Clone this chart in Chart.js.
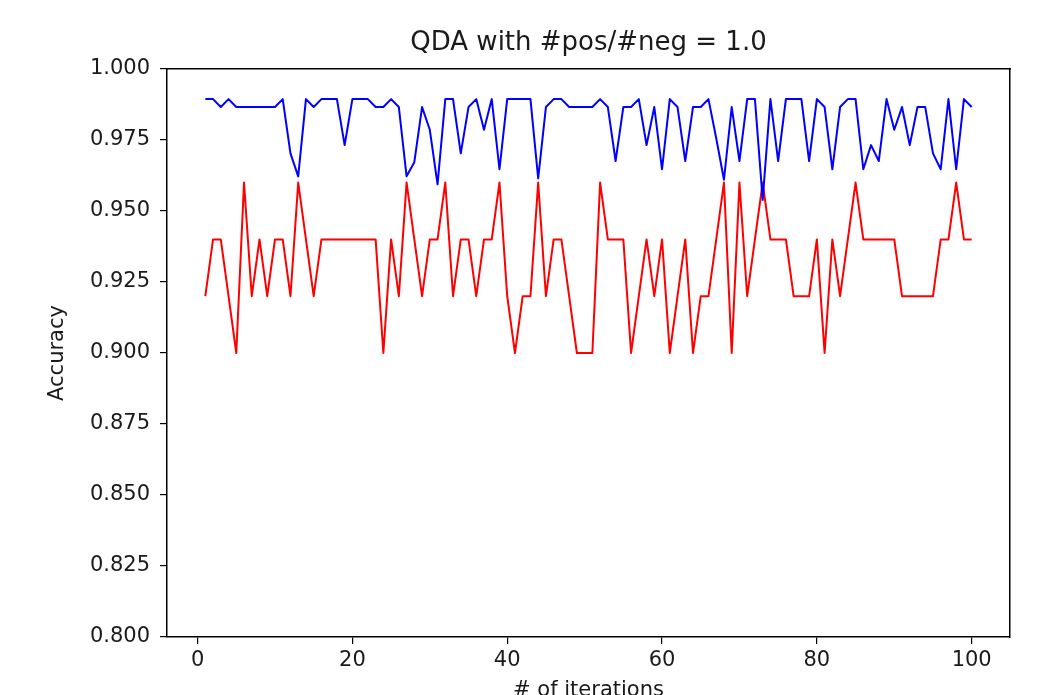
<!DOCTYPE html>
<html>
<head>
<meta charset="utf-8">
<title>QDA accuracy</title>
<script src="https://cdn.jsdelivr.net/npm/chart.js@4"></script>
<style>
  html, body { margin: 0; padding: 0; background: #fff; }
  #chart { display: block; }
</style>
</head>
<body>
<canvas id="chart" width="1038" height="695"></canvas>
<script>
// iteration index 1..100
const iterations = Array.from({ length: 100 }, (_, i) => i + 1);

// blue series
const blueAcc = [
    0.9894, 0.9894, 0.9866, 0.9894, 0.9866, 0.9866, 0.9866, 0.9866, 0.9866, 0.9866,
    0.9894, 0.9703, 0.9622, 0.9894, 0.9866, 0.9894, 0.9894, 0.9894, 0.9732, 0.9894,
    0.9894, 0.9894, 0.9866, 0.9866, 0.9894, 0.9866, 0.9622, 0.9672, 0.9866, 0.9786,
    0.9594, 0.9894, 0.9894, 0.9703, 0.9866, 0.9894, 0.9786, 0.9894, 0.9647, 0.9894,
    0.9894, 0.9894, 0.9894, 0.9615, 0.9866, 0.9894, 0.9894, 0.9866, 0.9866, 0.9866,
    0.9866, 0.9894, 0.9866, 0.9676, 0.9866, 0.9866, 0.9894, 0.9732, 0.9866, 0.9647,
    0.9894, 0.9866, 0.9676, 0.9866, 0.9866, 0.9894, 0.9756, 0.9610, 0.9866, 0.9676,
    0.9894, 0.9894, 0.9539, 0.9894, 0.9676, 0.9894, 0.9894, 0.9894, 0.9676, 0.9894,
    0.9866, 0.9647, 0.9866, 0.9894, 0.9894, 0.9647, 0.9732, 0.9676, 0.9894, 0.9786,
    0.9866, 0.9732, 0.9866, 0.9866, 0.9703, 0.9647, 0.9894, 0.9647, 0.9894, 0.9866
];

// red series
const redAcc = [
    0.92, 0.94, 0.94, 0.92, 0.90, 0.96, 0.92, 0.94, 0.92, 0.94,
    0.94, 0.92, 0.96, 0.94, 0.92, 0.94, 0.94, 0.94, 0.94, 0.94,
    0.94, 0.94, 0.94, 0.90, 0.94, 0.92, 0.96, 0.94, 0.92, 0.94,
    0.94, 0.96, 0.92, 0.94, 0.94, 0.92, 0.94, 0.94, 0.96, 0.92,
    0.90, 0.92, 0.92, 0.96, 0.92, 0.94, 0.94, 0.92, 0.90, 0.90,
    0.90, 0.96, 0.94, 0.94, 0.94, 0.90, 0.92, 0.94, 0.92, 0.94,
    0.90, 0.92, 0.94, 0.90, 0.92, 0.92, 0.94, 0.96, 0.90, 0.96,
    0.92, 0.94, 0.96, 0.94, 0.94, 0.94, 0.92, 0.92, 0.92, 0.94,
    0.90, 0.94, 0.92, 0.94, 0.96, 0.94, 0.94, 0.94, 0.94, 0.94,
    0.92, 0.92, 0.92, 0.92, 0.92, 0.94, 0.94, 0.96, 0.94, 0.94
];

const xTickValues = [0, 20, 40, 60, 80, 100];
const yTickValues = [0.800, 0.825, 0.850, 0.875, 0.900, 0.925, 0.950, 0.975, 1.000];

const titleText = "QDA with #pos/#neg = 1.0";
const xLabel = "# of iterations";
const yLabel = "Accuracy";

const FONT = "'DejaVu Sans', sans-serif";
const TEXT = "#1a1a1a";

const toPoints = ys => iterations.map((x, i) => ({ x, y: ys[i] }));

const frame = {
    display: true,
    grid: { display: false, drawTicks: false },
    border: { display: true, color: "#000", width: 1.5 },
    ticks: { display: false }
};

const lineStyle = { borderWidth: 2, pointRadius: 0, tension: 0, fill: false, borderJoinStyle: "round" };

new Chart(document.getElementById("chart"), {
    type: "line",
    data: {
        datasets: [
            { data: toPoints(blueAcc), borderColor: "#0000ff", ...lineStyle },
            { data: toPoints(redAcc), borderColor: "#ff0000", ...lineStyle }
        ]
    },
    options: {
        responsive: false,
        animation: false,
        layout: { padding: 0 },
        plugins: { legend: { display: false }, tooltip: { enabled: false } },
        scales: {
            x: {
                type: "linear",
                position: "bottom",
                min: -3.95,
                max: 104.95,
                afterBuildTicks: s => { s.ticks = xTickValues.map(v => ({ value: v })); },
                afterFit: s => { s.height = 58; },
                grid: { drawOnChartArea: false, drawTicks: true, tickLength: 7, color: "#000", lineWidth: 1.2 },
                border: { color: "#000", width: 1.5 },
                ticks: { color: TEXT, font: { family: FONT, size: 21 }, padding: 4, maxRotation: 0, autoSkip: false },
                title: { display: true, text: xLabel, color: TEXT, font: { family: FONT, size: 21 }, padding: { top: 0, bottom: -8 } }
            },
            y: {
                position: "left",
                min: 0.8,
                max: 1.0,
                afterBuildTicks: s => { s.ticks = yTickValues.map(v => ({ value: v })); },
                afterFit: s => { s.width = 167; },
                grid: { drawOnChartArea: false, drawTicks: true, tickLength: 7, color: "#000", lineWidth: 1.2 },
                border: { color: "#000", width: 1.5 },
                ticks: { color: TEXT, font: { family: FONT, size: 21 }, padding: 10, callback: v => v.toFixed(3) },
                title: { display: true, text: yLabel, color: TEXT, font: { family: FONT, size: 21 }, padding: { top: 45, bottom: 0 } }
            },
            // top and right spines; the top one carries the plot title
            x2: {
                ...frame,
                position: "top",
                afterFit: s => { s.height = 69; },
                title: { display: true, text: titleText, color: TEXT, font: { family: FONT, size: 26 }, padding: { top: 28, bottom: 0 } }
            },
            y2: {
                ...frame,
                position: "right",
                afterFit: s => { s.width = 28; }
            }
        }
    }
});
</script>
</body>
</html>
